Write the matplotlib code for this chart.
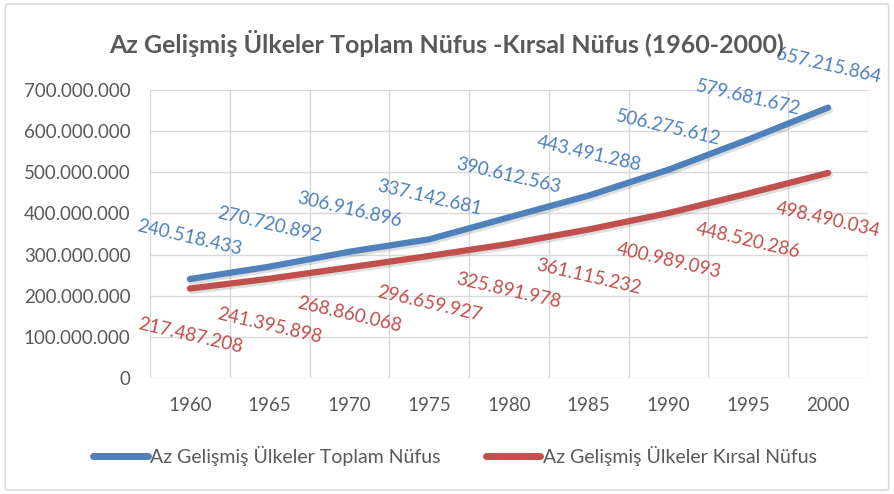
import matplotlib.pyplot as plt
import matplotlib.patheffects as pe
from matplotlib.patches import FancyBboxPatch
import numpy as np

plt.rcParams['font.family'] = ['Lato', 'DejaVu Sans']

years = ["1960", "1965", "1970", "1975", "1980", "1985", "1990", "1995", "2000"]
toplam = [240518433, 270720892, 306916896, 337142681, 390612563,
          443491288, 506275612, 579681672, 657215864]
kirsal = [217487208, 241395898, 268860068, 296659927, 325891978,
          361115232, 400989093, 448520286, 498490034]

title = "Az Gelişmiş Ülkeler Toplam Nüfus -Kırsal Nüfus (1960-2000)"
label_toplam = "Az Gelişmiş Ülkeler Toplam Nüfus"
label_kirsal = "Az Gelişmiş Ülkeler Kırsal Nüfus"

blue = "#4F81BD"
red = "#C0504D"
gray = "#595959"


def dotted(v):
    return f"{v:,}".replace(",", ".")


fig = plt.figure(figsize=(8.94, 4.94), dpi=100)
ax = fig.add_axes([150 / 894, 1 - 378 / 494, 718 / 894, 288 / 494])

# outer chart border
fig.patches.append(FancyBboxPatch((0.006, 0.008), 0.988, 0.984,
                                  boxstyle="round,pad=0,rounding_size=0.004",
                                  transform=fig.transFigure, fill=False,
                                  edgecolor="#D9D9D9", linewidth=1.2))

x = np.arange(len(years))
shadow = [pe.SimpleLineShadow(offset=(1.2, -1.8), shadow_color="black", alpha=0.13), pe.Normal()]
ax.plot(x, toplam, color=blue, lw=4.5, solid_capstyle="round", solid_joinstyle="round",
        label=label_toplam, path_effects=shadow, zorder=3)
ax.plot(x, kirsal, color=red, lw=4.5, solid_capstyle="round", solid_joinstyle="round",
        label=label_kirsal, path_effects=shadow, zorder=3)

for xi, v in zip(x, toplam):
    ax.annotate(dotted(v), (xi, v), xytext=(0, 30), textcoords="offset points",
                ha="center", va="center", rotation=-13, color=blue, fontsize=13.5)
for xi, v in zip(x, kirsal):
    ax.annotate(dotted(v), (xi, v), xytext=(0, -34), textcoords="offset points",
                ha="center", va="center", rotation=-13, color=red, fontsize=13.5)

ax.set_xlim(-0.5, len(years) - 0.5)
ax.set_ylim(0, 700000000)
ax.set_xticks(x)
ax.set_xticklabels(years)
ax.set_xticks(np.arange(-0.5, len(years)), minor=True)
ax.set_yticks(np.arange(0, 700000001, 100000000))
ax.set_yticklabels([dotted(v) for v in range(0, 700000001, 100000000)])
ax.grid(True, which="minor", axis="x", color="#D9D9D9", lw=1)
ax.grid(True, which="major", axis="y", color="#D9D9D9", lw=1)
ax.tick_params(which="both", length=0, labelsize=13.5, colors=gray, pad=14)
ax.tick_params(axis="y", pad=14)
for s in ax.spines.values():
    s.set_visible(False)

fig.text(0.5, 0.912, title, ha="center", va="center", fontsize=18,
         fontweight="bold", color=gray)

leg = fig.legend(loc="center", bbox_to_anchor=(0.509, 0.077), ncol=2, frameon=False,
                 fontsize=14, handlelength=2.8, handletextpad=0.15, columnspacing=2.3)
for t in leg.get_texts():
    t.set_color(gray)
for h in leg.legend_handles:
    h.set_path_effects([])
    h.set_linewidth(5)

fig.savefig("out.png", dpi=100)
